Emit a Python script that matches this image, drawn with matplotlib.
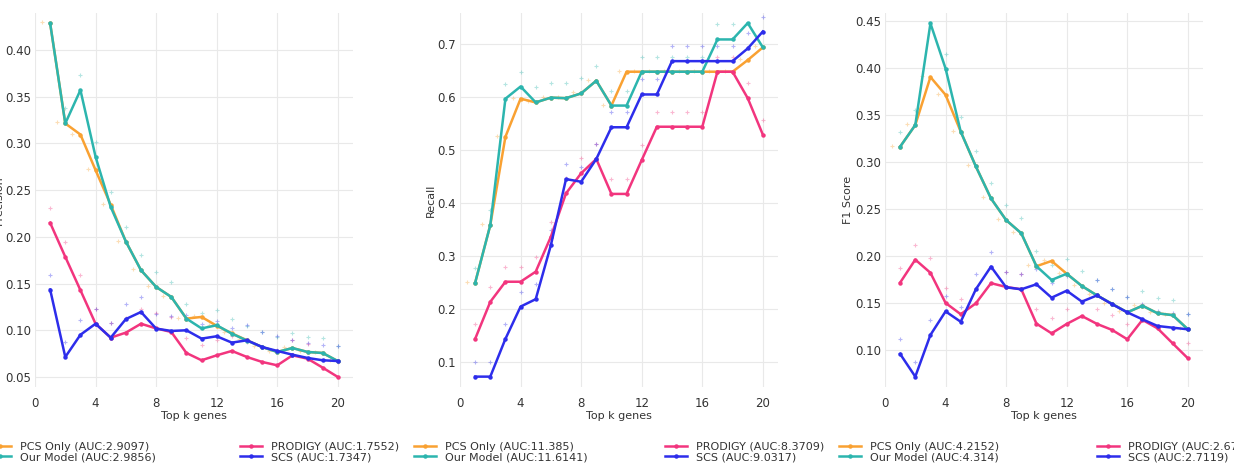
import matplotlib
matplotlib.use("Agg")
import matplotlib.pyplot as plt
from matplotlib.ticker import FormatStrFormatter
from matplotlib.transforms import offset_copy

# ---- data ----
k = list(range(1, 21))

prec_pcs = [0.4286, 0.3214, 0.3095, 0.2714, 0.2343, 0.195, 0.1643, 0.1464, 0.1357, 0.1125,
            0.1143, 0.1048, 0.0967, 0.0893, 0.0821, 0.0768, 0.0810, 0.0768, 0.0757, 0.0670]
prec_ours = [0.4286, 0.3214, 0.3571, 0.2857, 0.2320, 0.195, 0.1643, 0.1464, 0.1357, 0.1125,
             0.1020, 0.1054, 0.0964, 0.0890, 0.0821, 0.0768, 0.0810, 0.0768, 0.0757, 0.0670]
prec_prodigy = [0.2150, 0.1786, 0.1429, 0.1070, 0.0921, 0.0975, 0.1070, 0.1020, 0.0982, 0.0757,
                0.0679, 0.0732, 0.0779, 0.0714, 0.0661, 0.0625, 0.0732, 0.0696, 0.0600, 0.0500]
prec_scs = [0.1436, 0.0714, 0.0952, 0.1070, 0.0921, 0.1120, 0.1196, 0.1018, 0.0993, 0.1000,
            0.0911, 0.0936, 0.0868, 0.0893, 0.0821, 0.0779, 0.0739, 0.0704, 0.0679, 0.0671]

rec_pcs = [0.249, 0.358, 0.525, 0.597, 0.590, 0.599, 0.598, 0.607, 0.631, 0.584,
           0.648, 0.648, 0.648, 0.648, 0.648, 0.648, 0.648, 0.648, 0.670, 0.694]
rec_ours = [0.249, 0.358, 0.597, 0.620, 0.590, 0.599, 0.598, 0.607, 0.631, 0.584,
            0.584, 0.648, 0.648, 0.648, 0.648, 0.648, 0.709, 0.709, 0.740, 0.694]
rec_prodigy = [0.143, 0.213, 0.251, 0.251, 0.270, 0.336, 0.418, 0.456, 0.483, 0.417,
               0.417, 0.481, 0.544, 0.544, 0.544, 0.544, 0.648, 0.648, 0.598, 0.529]
rec_scs = [0.0716, 0.0716, 0.143, 0.204, 0.218, 0.320, 0.445, 0.440, 0.483, 0.543,
           0.543, 0.605, 0.605, 0.668, 0.668, 0.668, 0.668, 0.668, 0.692, 0.724]

f1_pcs = [0.316, 0.339, 0.390, 0.371, 0.332, 0.295, 0.261, 0.238, 0.224, 0.189,
          0.1946, 0.181, 0.168, 0.158, 0.149, 0.140, 0.147, 0.139, 0.137, 0.122]
f1_ours = [0.316, 0.339, 0.447, 0.399, 0.332, 0.295, 0.261, 0.238, 0.224, 0.189,
           0.1744, 0.181, 0.168, 0.158, 0.149, 0.140, 0.147, 0.139, 0.137, 0.122]
f1_prodigy = [0.1716, 0.196, 0.182, 0.150, 0.138, 0.1496, 0.171, 0.167, 0.1645, 0.128,
              0.1177, 0.1277, 0.1361, 0.1277, 0.1213, 0.1114, 0.132, 0.123, 0.107, 0.0912]
f1_scs = [0.0958, 0.0717, 0.116, 0.141, 0.130, 0.1645, 0.1886, 0.1666, 0.1645, 0.1698,
          0.1556, 0.163, 0.1514, 0.158, 0.1486, 0.140, 0.1326, 0.1255, 0.1237, 0.122]

auc_prec = [2.9097, 2.9856, 1.7552, 1.7347]
auc_rec = [11.385, 11.6141, 8.3709, 9.0317]
auc_f1 = [4.2152, 4.314, 2.676, 2.7119]

methods = ["PCS Only", "Our Model", "PRODIGY", "SCS"]
colors = ["#F9A132", "#2CB5AE", "#F2357E", "#2D2DEB"]

xticks = [0, 4, 8, 12, 16, 20]

# ---- layout ----
W, H = 1234, 471
fig = plt.figure(figsize=(W / 100, H / 100), dpi=100)

panels = [
    (35, "Precision", [prec_pcs, prec_ours, prec_prodigy, prec_scs], auc_prec,
     (0.0393, 0.4396), [0.05, 0.10, 0.15, 0.20, 0.25, 0.30, 0.35, 0.40], "%.2f"),
    (460, "Recall", [rec_pcs, rec_ours, rec_prodigy, rec_scs], auc_rec,
     (0.052, 0.759), [0.1, 0.2, 0.3, 0.4, 0.5, 0.6, 0.7], "%.1f"),
    (885, "F1 Score", [f1_pcs, f1_ours, f1_prodigy, f1_scs], auc_f1,
     (0.0607, 0.458), [0.10, 0.15, 0.20, 0.25, 0.30, 0.35, 0.40, 0.45], "%.2f"),
]

ax_top, ax_bot, ax_w = 13, 387, 318

for left, ylabel, series, aucs, ylim, yticks, fmt in panels:
    ax = fig.add_axes([left / W, 1 - ax_bot / H, ax_w / W, (ax_bot - ax_top) / H])

    for i, (name, ys, c) in enumerate(zip(methods, series, colors)):
        # faint shifted copy of the markers (visible in the source image)
        if i == 0:
            tr = offset_copy(ax.transData, fig=fig, x=-8, y=1, units="dots")
        else:
            tr = offset_copy(ax.transData, fig=fig, x=0, y=15, units="dots")
        ax.plot(k, ys, linestyle="none", marker="+", ms=3, mew=0.8,
                color=c, alpha=0.35, transform=tr, zorder=1)
        ax.plot(k, ys, color=c, lw=1.8, marker="o", ms=2.2,
                label=f"{name} (AUC:{aucs[i]})", zorder=2 + i)

    ax.set_xlim(0, 21)
    ax.set_ylim(*ylim)
    ax.set_xticks(xticks)
    ax.set_yticks(yticks)
    ax.yaxis.set_major_formatter(FormatStrFormatter(fmt))

    for s in ax.spines.values():
        s.set_visible(False)
    ax.grid(True, color="#E9E9E9", lw=0.8)
    ax.set_axisbelow(True)
    ax.tick_params(axis="both", length=0, labelsize=8.5, colors="#333333")
    ax.tick_params(axis="x", pad=7)
    ax.tick_params(axis="y", pad=3)

    ax.set_xlabel("Top k genes", fontsize=8, color="#333333", labelpad=1)
    ax.set_ylabel(ylabel, fontsize=8, color="#333333", labelpad=1)

    ax.legend(loc="center", bbox_to_anchor=(-0.1585, -0.1738, 1.317, 0),
              mode="expand", ncol=2, frameon=False, fontsize=8,
              labelspacing=0.05, handlelength=2.0, handletextpad=0.8,
              borderaxespad=0, labelcolor="#333333")

fig.savefig("out.png", dpi=100)
